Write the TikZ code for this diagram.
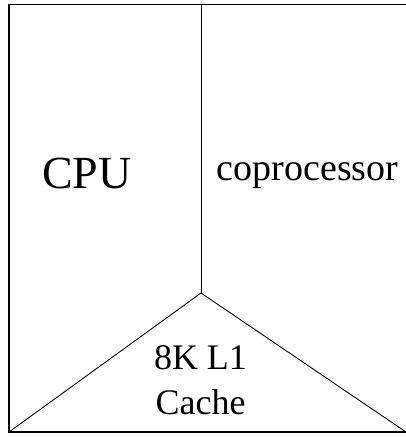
\documentclass[tikz,border=0pt]{standalone}
\usepackage{fontspec}
\setmainfont{Liberation Serif}
\usepackage{tikz}

\begin{document}
\begin{tikzpicture}[x=1pt, y=-1pt,
    borde/.style={line width=1.3pt},
    linea/.style={line width=0.9pt},
    etiqueta/.style={inner sep=0pt, align=center}]
    \useasboundingbox (0,0) rectangle (405,437);

    % Marco exterior
    \draw[borde] (406,4.5) -- (9,4.5) -- (9,432) -- (406,432);

    % Vertice comun y divisiones
    \coordinate (centro) at (201,293);
    \coordinate (izq) at (9,432);
    \coordinate (der) at (406,432);
    \draw[linea] (201,4.5) -- (centro);
    \draw[linea] (izq) -- (centro) -- (der);

    % Etiquetas
    \node[etiqueta, anchor=base] (cpu) at (87,188) {\fontsize{46}{46}\selectfont CPU};
    \node[etiqueta, anchor=base] (copro) at (307.5,180) {\fontsize{38}{38}\selectfont coprocessor};
    \node[etiqueta, anchor=north, font=\fontsize{36}{45}\selectfont] (cache) at (200.5,345.5) {8K L1\\Cache};
\end{tikzpicture}
\end{document}
